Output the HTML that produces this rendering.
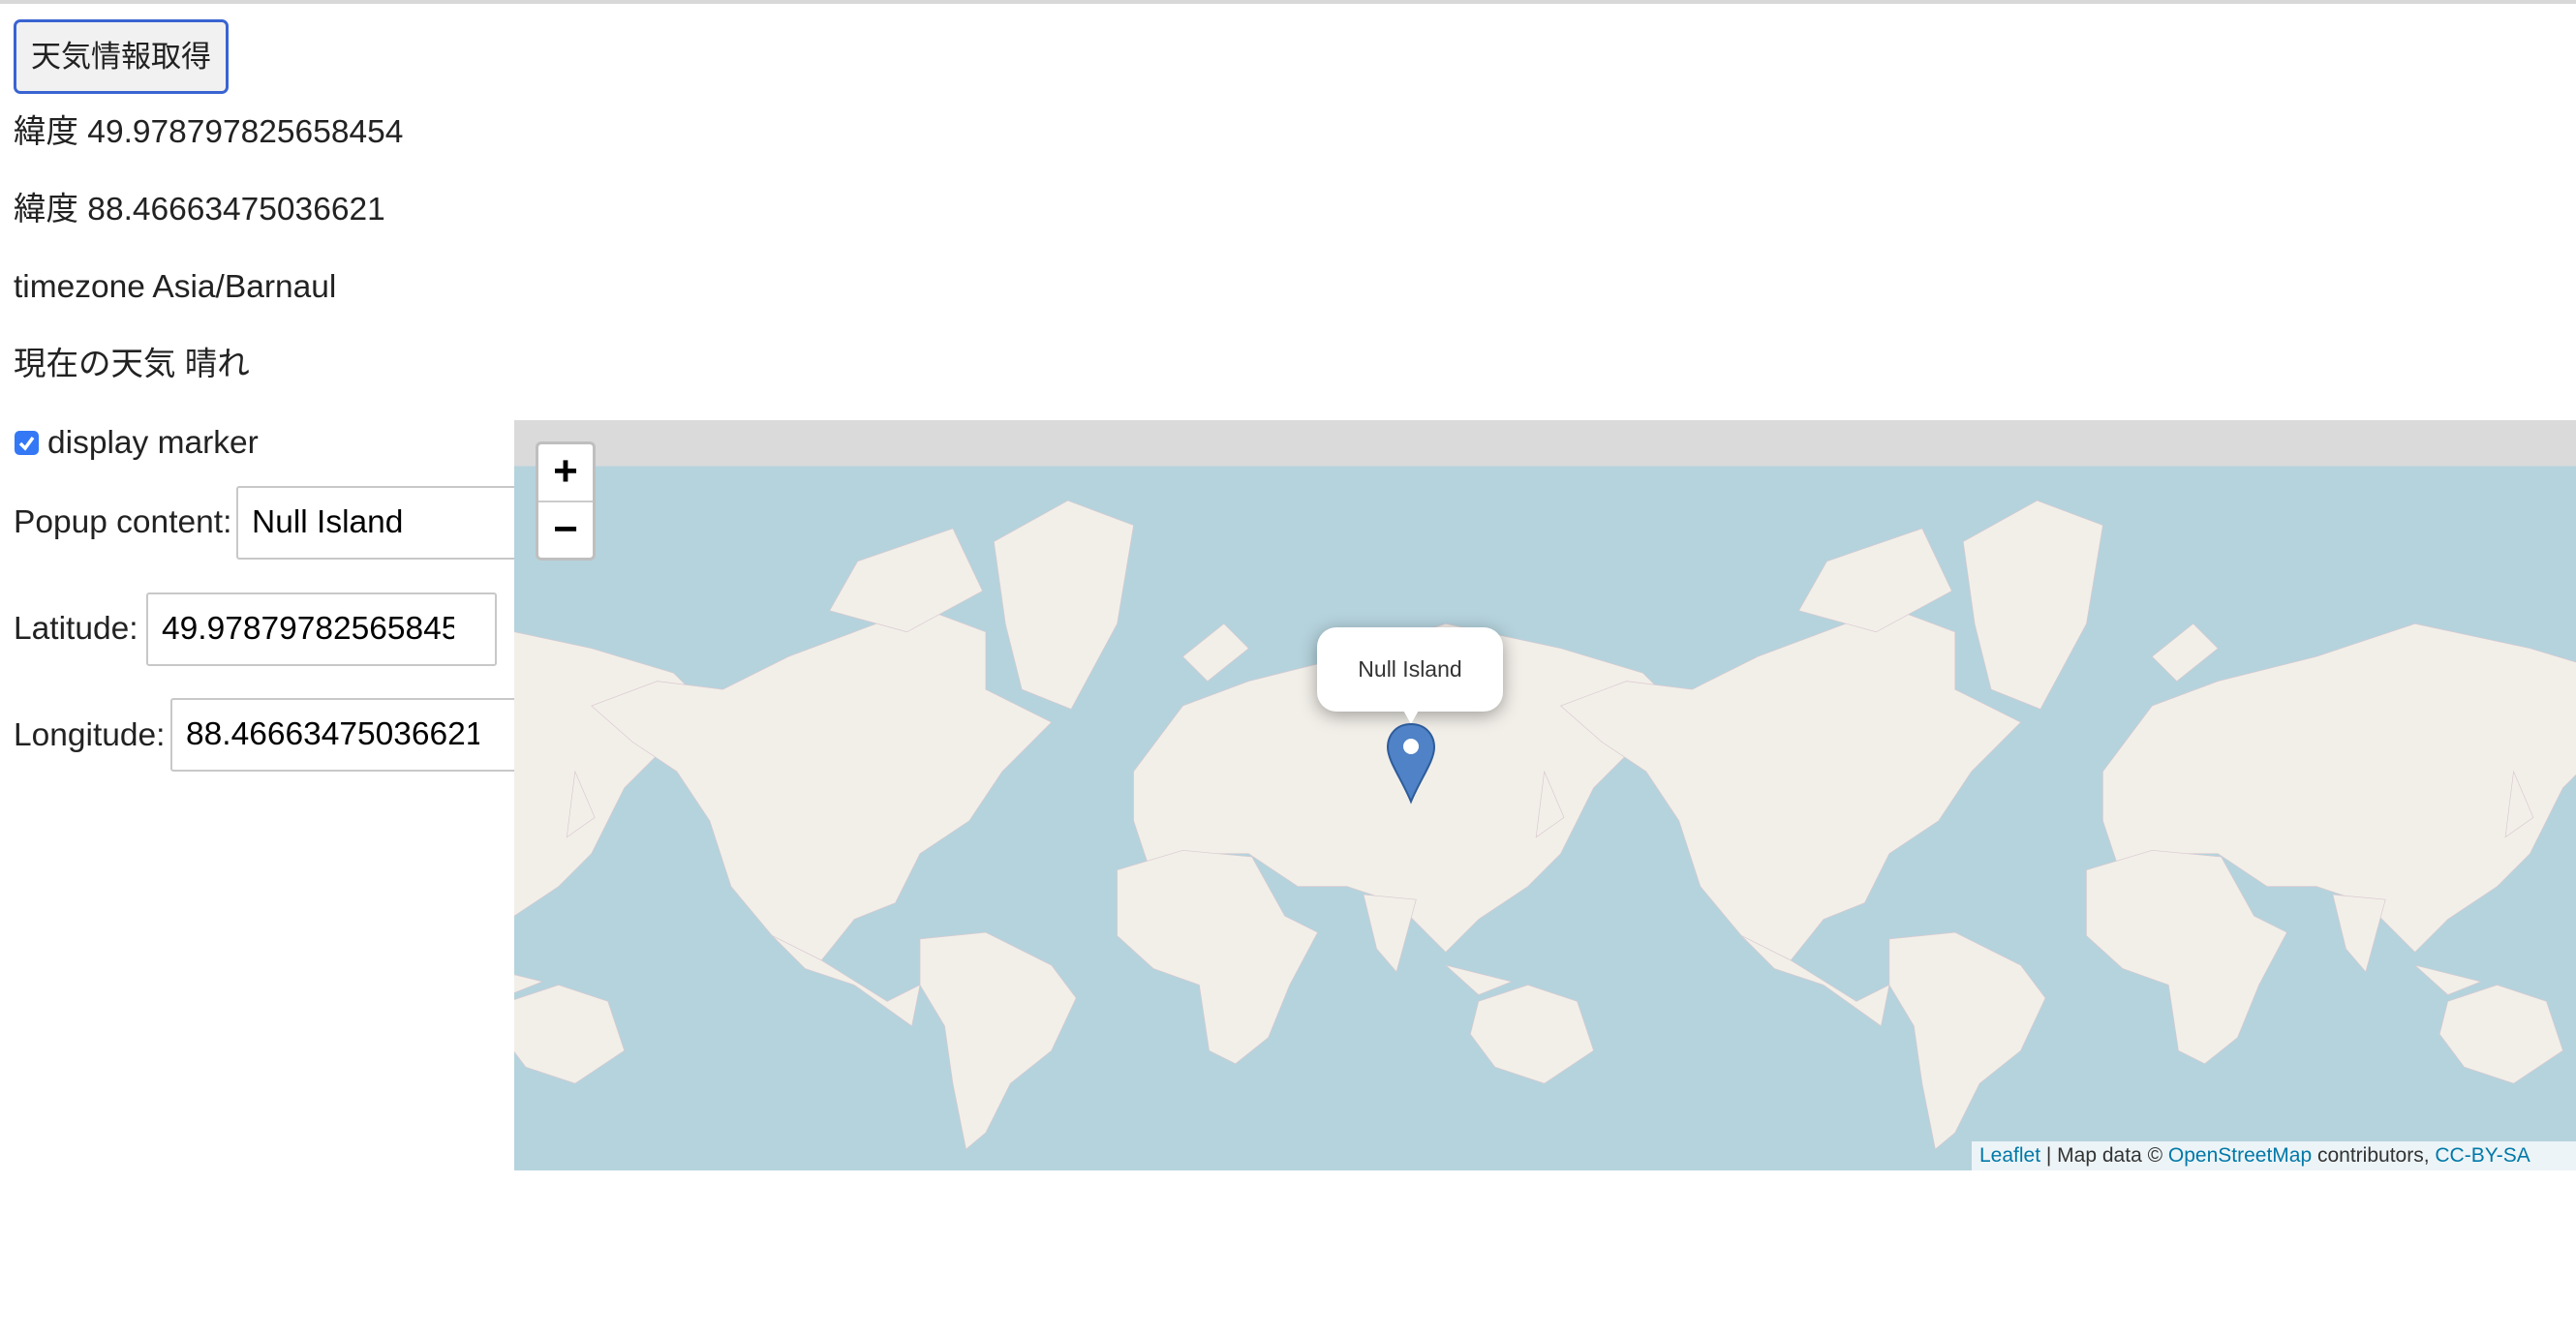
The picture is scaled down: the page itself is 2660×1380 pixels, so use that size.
<!DOCTYPE html>
<html><head><meta charset="utf-8">
<style>
html,body{margin:0;padding:0;width:2660px;height:1380px;overflow:hidden;background:#fff;font-family:"Liberation Sans","Noto Sans CJK JP",sans-serif;color:#222;}
.topline{position:absolute;left:0;top:0;width:2660px;height:4px;background:#d8d8d8;}
.btn{position:absolute;left:14px;top:20px;width:222px;height:77px;box-sizing:border-box;border:3px solid #3a64d2;border-radius:7px;background:#f1f1f1;font-size:31px;line-height:71px;text-align:center;color:#222;}
.line{position:absolute;left:14px;font-size:33.5px;line-height:40px;color:#222;}
.cb{position:absolute;left:15px;top:445px;width:25px;height:25px;background:#3478f6;border-radius:5px;}
.inp{position:absolute;box-sizing:border-box;border:2px solid #c8c8c8;border-radius:3px;background:#fff;font-size:33.5px;color:#000;padding-left:14px;overflow:hidden;white-space:nowrap;}
.inp span{display:inline-block;overflow:hidden;white-space:nowrap;vertical-align:top;}
.map{position:absolute;left:531px;top:434px;width:2129px;height:775px;overflow:hidden;background:#b5d3dd;}
.zoom{position:absolute;left:553px;top:456px;width:62px;height:123px;box-sizing:border-box;border:3px solid rgba(0,0,0,0.25);border-radius:6px;background:#fff;}
.zoom div{height:58px;text-align:center;font-size:44px;line-height:56px;font-weight:bold;color:#000;font-family:"Liberation Sans",sans-serif;}
.popup{position:absolute;left:1360px;top:648px;width:192px;height:87px;background:#fff;border-radius:20px;box-shadow:0 4px 18px rgba(0,0,0,0.35);font-size:23px;line-height:87px;text-align:center;color:#333;}
.attr{position:absolute;left:2036px;top:1179px;width:624px;height:30px;background:rgba(255,255,255,0.75);font-size:21px;line-height:30px;padding-left:8px;box-sizing:border-box;color:#333;}
.attr a{color:#0078a8;text-decoration:none;}
</style></head>
<body>
<div class="topline"></div>
<div class="btn">天気情報取得</div>
<div class="line" style="top:117px">緯度 49.978797825658454</div>
<div class="line" style="top:197px">緯度 88.46663475036621</div>
<div class="line" style="top:277px">timezone Asia/Barnaul</div>
<div class="line" style="top:357px">現在の天気 晴れ</div>
<div class="cb"><svg width="25" height="25" viewBox="0 0 25 25"><path d="M6 13 L11 18 L19 7" stroke="#fff" stroke-width="3.5" fill="none"/></svg></div>
<div class="line" style="top:438px;left:49px">display marker</div>
<div class="line" style="top:520px">Popup content:</div>
<div class="inp" style="left:244px;top:502px;width:320px;height:76px;line-height:72px">Null Island</div>
<div class="line" style="top:630px">Latitude:</div>
<div class="inp" style="left:151px;top:612px;width:362px;height:76px;line-height:72px"><span style="width:302px">49.97879782565845</span></div>
<div class="line" style="top:740px">Longitude:</div>
<div class="inp" style="left:176px;top:721px;width:380px;height:76px;line-height:72px"><span style="width:303px">88.466634750366211</span></div>

<div class="map">
<svg width="2129" height="775" viewBox="313 256 1255 457" preserveAspectRatio="none">
<defs>
<g id="world" fill="#f2efe9" stroke="#d9c9cf" stroke-width="0.4">
<polygon points="360,430 400,415 440,420 480,400 520,385 560,370 600,385 600,420 640,440 610,470 590,500 560,520 545,550 520,560 500,585 470,570 445,540 432,500 412,470 385,452"/>
<polygon points="605,330 650,305 690,320 680,380 652,432 622,420 612,380"/>
<polygon points="505,372 522,342 580,322 598,360 552,385"/>
<polygon points="470,570 500,585 540,610 560,600 555,625 520,600 490,590"/>
<polygon points="560,572 600,568 640,588 655,608 640,640 615,660 600,690 588,700 580,660 575,625 560,600"/>
<polygon points="690,470 720,430 760,415 820,400 880,380 950,395 1000,410 1030,440 990,460 970,480 950,520 930,540 900,560 880,580 850,550 820,540 790,540 760,520 730,520 700,530 690,500"/>
<polygon points="680,530 720,518 762,522 782,558 802,568 785,600 772,632 752,648 736,640 730,600 702,590 680,570"/>
<polygon points="830,545 862,548 850,592 838,578"/>
<polygon points="900,610 930,600 960,610 970,640 940,660 910,650 895,630"/>
<polygon points="880,588 920,598 900,606"/>
<polygon points="940,470 952,498 935,510"/>
<polygon points="720,400 745,380 760,395 735,415"/>
</g>
</defs>
<rect x="313" y="256" width="1255" height="28" fill="#dadada"/>
<use href="#world" x="-590"/>
<use href="#world" x="0"/>
<use href="#world" x="590"/>
</svg>
</div>
<div class="zoom"><div style="border-bottom:2px solid #ccc">+</div><div>−</div></div>
<div class="popup">Null Island</div>
<svg style="position:absolute;left:1425px;top:730px" width="64" height="105" viewBox="0 0 64 105">
<path d="M22 0 L42 0 L32 18 Z" fill="#fff"/>
<path d="M32 18 C16 18 8 30 8 42 C8 56 22 74 32 98 C42 74 56 56 56 42 C56 30 48 18 32 18 Z" fill="#4f82c6" stroke="#2e5c9a" stroke-width="2"/>
<circle cx="32" cy="41" r="8" fill="#fff"/>
</svg>
<div class="attr"><a>Leaflet</a> | Map data © <a>OpenStreetMap</a> contributors, <a>CC-BY-SA</a></div>
</body></html>
